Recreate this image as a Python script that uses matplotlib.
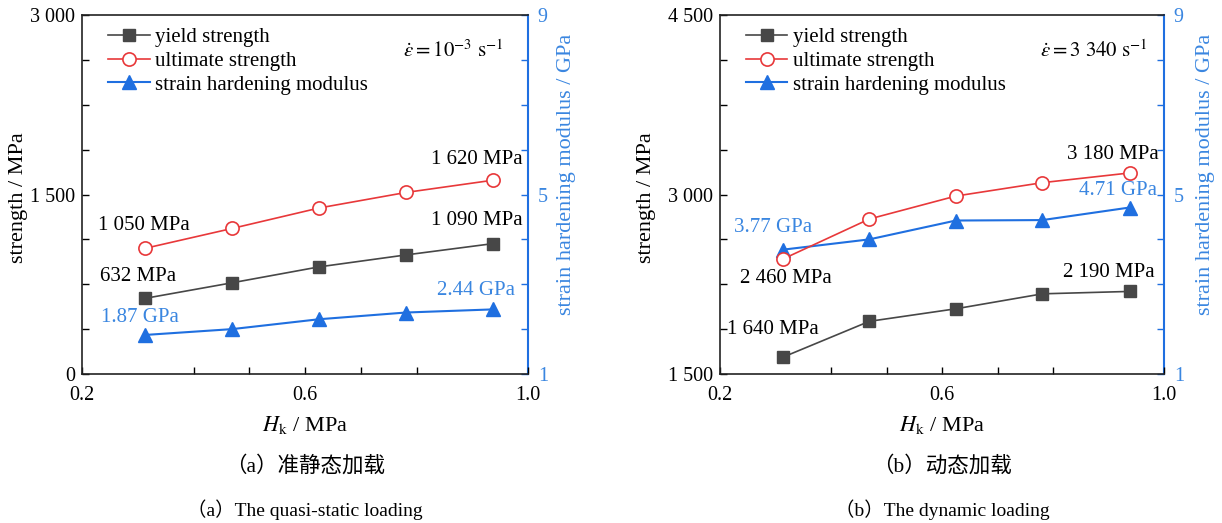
import matplotlib
matplotlib.use("Agg")
import matplotlib.pyplot as plt
from matplotlib.ticker import FixedLocator, MultipleLocator

# ---------------- data ----------------
hk = [0.313, 0.469, 0.625, 0.781, 0.938]

static_yield = [632, 762, 895, 995, 1090]
static_ultimate = [1050, 1216, 1387, 1517, 1620]
static_modulus = [1.87, 2.00, 2.22, 2.37, 2.44]

dyn_yield = [1640, 1940, 2045, 2170, 2190]
dyn_ultimate = [2460, 2795, 2987, 3099, 3180]
dyn_modulus = [3.77, 4.00, 4.42, 4.43, 4.71]

series_labels = ["yield strength", "ultimate strength", "strain hardening modulus"]
captions_cn = ["（a）准静态加载", "（b）动态加载"]
captions_en = ["（a）The quasi-static loading", "（b）The dynamic loading"]
rate_texts = [r"$\dot{\varepsilon}=10^{-3}\ \mathrm{s}^{-1}$",
              r"$\dot{\varepsilon}=3\ 340\ \mathrm{s}^{-1}$"]

# ---------------- style ----------------
plt.rcParams["font.family"] = ["Liberation Serif", "Noto Sans CJK SC"]
plt.rcParams["mathtext.fontset"] = "stix"
FS = 15
TFS = 14.5
LFS = 16
GRAY = "#474747"
RED = "#e8383a"
BLUE = "#1f6fe0"
BLUE_T = "#3a86e0"

fig = plt.figure(figsize=(12.22, 5.23), dpi=100)

panels = [
    dict(rect=[82/1222, 1-374/523, 446/1222, 359/523],
         y=static_yield, u=static_ultimate, m=static_modulus,
         ylim=(0, 3000), yticks=[0, 1500, 3000], ylabels=["0", "1 500", "3 000"],
         rate=rate_texts[0], rate_xy=(0.72, 0.90), ylab_x=-0.121, ylab2_x=1.064,
         ann=[  # (series, index, text, offset px, colour)
             ("u", 0, "1 050 MPa", (-1, 23), "k"),
             ("y", 0, "632 MPa", (-7, 22), "k"),
             ("u", 4, "1 620 MPa", (-17, 21), "k"),
             ("y", 4, "1 090 MPa", (-17, 23), "k"),
             ("m", 0, "1.87 GPa", (-5, 17), BLUE_T),
             ("m", 4, "2.44 GPa", (-17, 19), BLUE_T),
         ]),
    dict(rect=[720/1222, 1-374/523, 444/1222, 359/523],
         y=dyn_yield, u=dyn_ultimate, m=dyn_modulus,
         ylim=(1500, 4500), yticks=[1500, 3000, 4500], ylabels=["1 500", "3 000", "4 500"],
         rate=rate_texts[1], rate_xy=(0.72, 0.90), ylab_x=-0.144, ylab2_x=1.072,
         ann=[
             ("m", 0, "3.77 GPa", (-10, 22), BLUE_T),
             ("u", 0, "2 460 MPa", (3, -19), "k"),
             ("y", 0, "1 640 MPa", (-10, 28), "k"),
             ("u", 4, "3 180 MPa", (-17, 18), "k"),
             ("m", 4, "4.71 GPa", (-12, 17), BLUE_T),
             ("y", 4, "2 190 MPa", (-21, 19), "k"),
         ]),
]

px2pt = 72 / 100

for i, p in enumerate(panels):
    ax = fig.add_axes(p["rect"])
    ax2 = ax.twinx()
    ax.set_zorder(ax2.get_zorder() + 1)
    ax.patch.set_visible(False)

    l1, = ax.plot(hk, p["y"], color=GRAY, marker="s", ms=9, lw=1.2,
                  mfc=GRAY, mec=GRAY, label=series_labels[0])
    l2, = ax.plot(hk, p["u"], color=RED, marker="o", ms=9.5, lw=1.2,
                  mfc="white", mec=RED, mew=1.2, label=series_labels[1])
    l3, = ax2.plot(hk, p["m"], color=BLUE, marker="^", ms=10, lw=1.5,
                   mfc=BLUE, mec=BLUE, label=series_labels[2])

    ax.set_xlim(0.2, 1.0)
    ax.set_ylim(*p["ylim"])
    ax2.set_ylim(1, 9)

    ax.xaxis.set_major_locator(FixedLocator([0.2, 0.6, 1.0]))
    ax.xaxis.set_minor_locator(FixedLocator([0.4, 0.5, 0.7, 0.8]))
    ax.set_xticklabels(["0.2", "0.6", "1.0"])
    ax.yaxis.set_major_locator(FixedLocator(p["yticks"]))
    ax.set_yticklabels(p["ylabels"])
    ax.yaxis.set_minor_locator(MultipleLocator(375))
    ax2.yaxis.set_major_locator(FixedLocator([1, 5, 9]))
    ax2.yaxis.set_minor_locator(MultipleLocator(1))

    for a in (ax, ax2):
        a.tick_params(which="both", direction="in", length=5, width=1, labelsize=TFS)
    ax.tick_params(axis="x", which="both", top=False, pad=9)
    ax.tick_params(axis="y", which="both", right=False, pad=5)
    ax2.tick_params(axis="y", which="both", colors=BLUE, labelcolor=BLUE_T, pad=7)

    for s in ("left", "bottom", "top"):
        ax.spines[s].set_color("#222222")
        ax.spines[s].set_linewidth(1.2)
        ax2.spines[s].set_visible(False)
    ax.spines["right"].set_visible(False)
    ax2.spines["right"].set_color(BLUE)
    ax2.spines["right"].set_linewidth(1.5)

    ax.set_xlabel(r"$H_{\mathrm{k}}$ / MPa", fontsize=LFS, labelpad=6)
    ax.set_ylabel("strength / MPa", fontsize=LFS)
    ax.yaxis.set_label_coords(p["ylab_x"], 0.49)
    ax2.set_ylabel("strain hardening modulus / GPa", fontsize=LFS, color=BLUE_T)
    ax2.yaxis.set_label_coords(p["ylab2_x"], 0.557)

    ax.legend(handles=[l1, l2, l3], loc="upper left", bbox_to_anchor=(0.058, 0.965),
              frameon=False, fontsize=FS, handlelength=2.0, handletextpad=0.25,
              labelspacing=0.2, borderaxespad=0.0, borderpad=0.0)

    ax.text(p["rate_xy"][0], p["rate_xy"][1], p["rate"], transform=ax.transAxes,
            fontsize=FS, ha="left", va="center")

    data = {"y": (ax, p["y"]), "u": (ax, p["u"]), "m": (ax2, p["m"])}
    for key, idx, txt, off, col in p["ann"]:
        a, vals = data[key]
        a.annotate(txt, xy=(hk[idx], vals[idx]), xycoords="data",
                   xytext=(off[0] * px2pt, off[1] * px2pt), textcoords="offset points",
                   ha="center", va="center", fontsize=FS, color=col)

    cx = p["rect"][0] + p["rect"][2] / 2
    fig.text(cx, 1 - 466/523, captions_cn[i], ha="center", va="center", fontsize=15.5)
    fig.text(cx, 1 - 510/523, captions_en[i], ha="center", va="center", fontsize=14)

fig.savefig("out.png", dpi=100)
